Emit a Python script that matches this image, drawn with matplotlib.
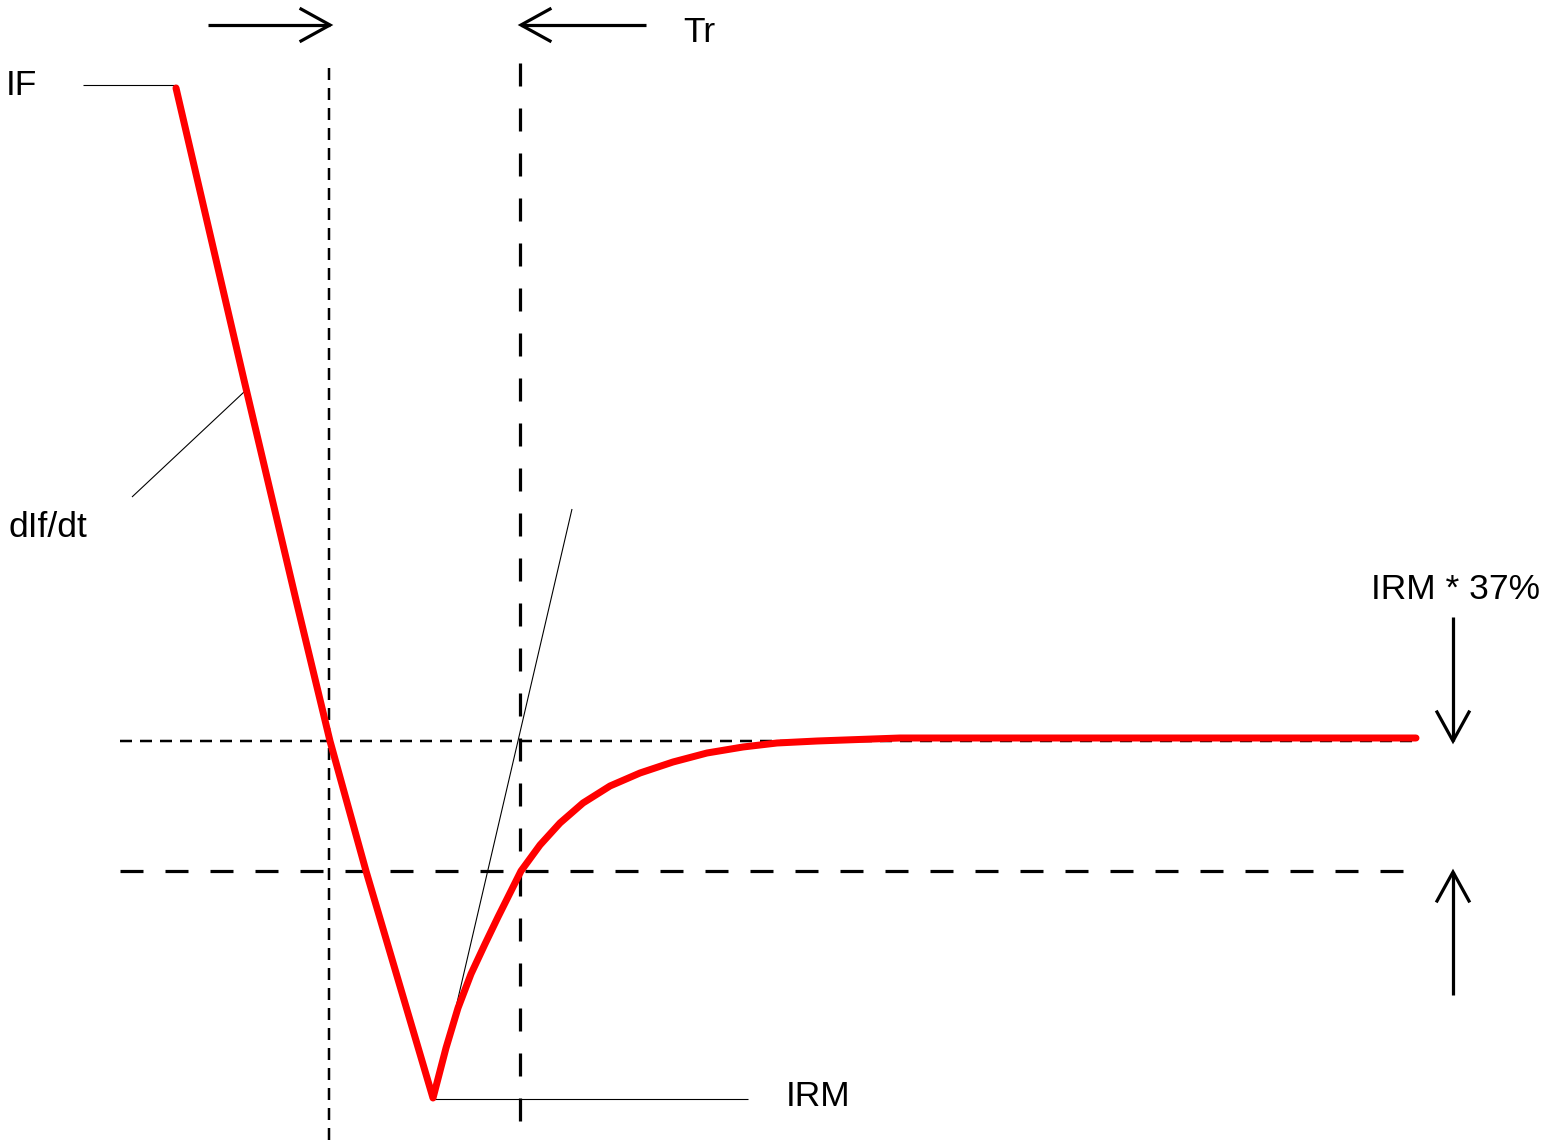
import matplotlib
matplotlib.use("Agg")
import matplotlib.pyplot as plt
import numpy as np

plt.rcParams['font.family'] = ['Liberation Sans', 'DejaVu Sans']
plt.rcParams['lines.scale_dashes'] = False

# ---- data (picture units, y downward) ----
# falling edge of current (dIf/dt)
fall_x = [176, 244, 296, 330, 366, 433]
fall_y = [88, 380, 600, 741, 871, 1098]
# recovery towards IRM*37% level
rec_x = [433, 446, 458, 471, 485, 498, 510, 521, 540, 560, 583, 610, 640, 673,
         707, 743, 777, 817, 900, 1416]
rec_y = [1098, 1048, 1008, 974, 944, 917, 893, 871, 845, 823, 803, 786, 773, 762,
         753, 747, 743, 741, 738, 738]
# tangent at IRM
tangent_x = [436, 572]
tangent_y = [1093, 509]
# reference levels
level_37 = 741
level_ref = 871
level_x_start = 120
level_37_end = 1415
level_ref_end = 1424
# time markers
t_start = 329
t_end = 520
# leaders
if_leader_x = [83, 177]
if_leader_y = [85, 85]
didt_leader_x = [132, 244]
didt_leader_y = [497, 392]
irm_leader_x = [432, 748]
irm_leader_y = [1099, 1099]
# arrows: (tail_x, tail_y, tip_x, tip_y)
arrows = [
    (208, 25, 330, 25),
    (646, 25, 521, 25),
    (1453, 617, 1453, 741),
    (1453, 995, 1453, 872),
]
# labels: (text, x, baseline y)
labels = [
    ("IF", 6, 95),
    ("Tr", 683, 42),
    ("dIf/dt", 9, 537),
    ("IRM * 37%", 1371, 599),
    ("IRM", 786, 1106),
]

W, H = 1545, 1140
fig = plt.figure(figsize=(W / 100, H / 100), dpi=100)
ax = fig.add_axes([0, 0, 1, 1])
ax.set_xlim(0, W)
ax.set_ylim(H, 0)
ax.axis('off')

px = 0.72  # pixels -> points

# dashed reference lines
short_dash = (0, (12 * px, 8 * px))
long_dash = (0, (23 * px, 22 * px))
ax.plot([t_start, t_start], [68, H], color='black', lw=2.5 * px, linestyle=short_dash)
ax.plot([t_end, t_end], [63, H], color='black', lw=3.2 * px, linestyle=long_dash)
ax.plot([level_x_start, level_37_end], [level_37, level_37], color='black',
        lw=2.5 * px, linestyle=short_dash)
ax.plot([level_x_start, level_ref_end], [level_ref, level_ref], color='black',
        lw=3.2 * px, linestyle=long_dash)

# thin leaders and tangent
for lx, ly in [(if_leader_x, if_leader_y), (didt_leader_x, didt_leader_y),
               (irm_leader_x, irm_leader_y), (tangent_x, tangent_y)]:
    ax.plot(lx, ly, color='black', lw=1.1 * px, solid_capstyle='butt')

# red current curve
ax.plot(fall_x + rec_x[1:], fall_y + rec_y[1:], color='#ff0000', lw=7 * px,
        solid_joinstyle='round', solid_capstyle='round', zorder=5)

# arrows with open chevron heads
head_len, head_half = 29, 16
for tx, ty, hx, hy in arrows:
    d = np.array([hx - tx, hy - ty], dtype=float)
    d /= np.hypot(*d)
    n = np.array([-d[1], d[0]])
    base = np.array([hx, hy]) - d * head_len
    a1 = base + n * head_half
    a2 = base - n * head_half
    ax.plot([tx, hx], [ty, hy], color='black', lw=3.2 * px, solid_capstyle='butt')
    ax.plot([a1[0], hx, a2[0]], [a1[1], hy, a2[1]], color='black', lw=3.2 * px,
            solid_joinstyle='miter')

for txt, x, y in labels:
    ax.text(x, y, txt, fontsize=25.5, color='black', ha='left', va='baseline')

fig.savefig('out.png', dpi=100, facecolor='white')
